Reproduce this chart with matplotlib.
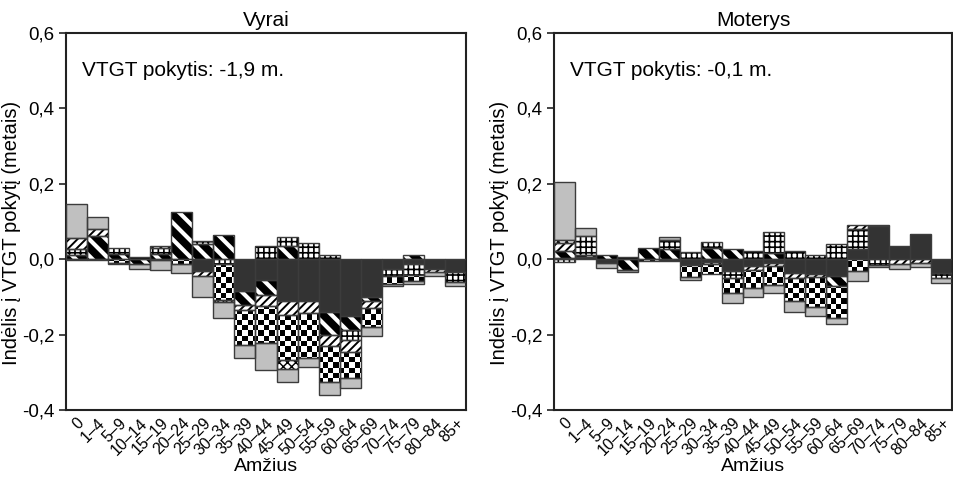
import numpy as np
import matplotlib
matplotlib.use('Agg')
import matplotlib.pyplot as plt
from matplotlib.path import Path

plt.rcParams['font.family'] = ['Liberation Sans', 'DejaVu Sans']
plt.rcParams['hatch.linewidth'] = 1.2

ages = ['0', '1–4', '5–9', '10–14', '15–19', '20–24', '25–29', '30–34', '35–39', '40–44',
        '45–49', '50–54', '55–59', '60–64', '65–69', '70–74', '75–79', '80–84', '85+']

# Vyrai (men): contribution of each cause group, by age
m_dark    = [-0.003, -0.003, 0, 0, -0.002, 0, -0.032, 0, -0.085, -0.055, -0.112, -0.112, -0.14, -0.152, -0.099, -0.027, -0.012, -0.025, -0.033]
m_stripes = [0.012, 0.061, 0.015, -0.014, 0.013, 0.126, 0.04, 0.065, -0.036, -0.04, 0.035, 0, -0.062, -0.036, -0.011, 0, 0.01, 0, 0]
m_grid    = [0.014, 0, 0.015, 0.005, 0.018, 0, 0.008, -0.012, 0, 0.035, 0.024, 0.042, 0.012, -0.027, 0, -0.018, -0.03, 0, -0.028]
m_fine    = [0.031, 0.018, 0, 0, 0.005, 0, -0.013, 0, -0.015, -0.03, -0.036, -0.031, -0.027, -0.03, -0.02, 0, 0, -0.01, 0]
m_checker = [0, 0, -0.01, 0, 0, -0.012, 0, -0.095, -0.092, -0.098, -0.12, -0.12, -0.097, -0.071, -0.049, -0.02, -0.016, 0, 0]
m_dots    = [0, 0, 0, 0, 0, 0, 0, -0.006, 0, 0, -0.022, 0, 0, 0, 0, 0, 0, 0, 0]
m_other   = [0.089, 0.033, -0.004, -0.012, -0.028, -0.025, -0.054, -0.042, -0.035, -0.07, -0.037, -0.024, -0.034, -0.025, -0.026, -0.007, -0.008, -0.01, -0.01]

# Moterys (women)
f_dark    = [0.004, 0.006, -0.01, 0, 0, -0.006, -0.016, -0.008, -0.032, -0.019, -0.01, -0.037, -0.04, -0.045, 0.028, 0.087, 0.035, 0.068, -0.037]
f_stripes = [0.017, 0.006, 0.011, -0.03, 0.03, 0.026, 0, 0.03, 0.026, 0, 0.017, 0, 0, -0.027, 0, 0, 0, 0, 0]
f_grid    = [-0.008, 0.049, 0, 0.006, 0, 0.026, 0.02, 0.016, -0.018, 0.021, 0.056, 0.023, 0.012, 0.041, 0.051, -0.016, 0, 0, -0.014]
f_fine    = [0.023, 0, 0, 0, 0, 0, 0, -0.006, 0, -0.009, -0.008, -0.013, -0.008, 0, 0.013, 0.004, -0.012, -0.01, 0]
f_checker = [0, 0, 0, 0, -0.005, 0, -0.03, -0.025, -0.04, -0.048, -0.05, -0.062, -0.08, -0.085, -0.032, 0, 0, 0, 0]
f_dots    = [0.008, 0, 0, 0, 0, 0, 0, 0, 0, 0, 0, 0, 0, 0, 0, 0, 0, 0, 0]
f_other   = [0.154, 0.023, -0.013, -0.004, 0, 0.008, -0.01, 0, -0.026, -0.025, -0.022, -0.027, -0.022, -0.016, -0.027, -0.005, -0.014, -0.01, -0.012]

titles = ['Vyrai', 'Moterys']
totals = ['-1,9', '-0,1']

styles = {
    'dark':    dict(facecolor='#333333', edgecolor='#333333', hatch=None, hlw=None),
    'stripes': dict(facecolor='black', edgecolor='white', hatch='\\\\', hlw=3.0),
    'grid':    dict(facecolor='white', edgecolor='black', hatch='+++', hlw=1.2),
    'fine':    dict(facecolor='white', edgecolor='black', hatch='////', hlw=1.4),
    'checker': dict(facecolor='white', edgecolor='white', hatch=None, hlw=None),
    'dots':    dict(facecolor='white', edgecolor='black', hatch='xxxx', hlw=1.0),
    'other':   dict(facecolor='#c0c0c0', edgecolor='#c0c0c0', hatch=None, hlw=None),
}


def fmt(v, pos=None):
    return ('%.1f' % v).replace('.', ',')


def draw_panel(ax, series, title, total):
    n = len(ages)
    x = np.arange(n)
    pos_b = np.zeros(n)
    neg_b = np.zeros(n)
    checker_paths = []
    for key, vals in series:
        v = np.array(vals, dtype=float)
        st = styles[key]
        for part, base in ((np.where(v > 0, v, 0), pos_b.copy()), (np.where(v < 0, v, 0), neg_b.copy())):
            m = part != 0
            if not m.any():
                continue
            bars = ax.bar(x[m], part[m], width=1.0, bottom=base[m], facecolor=st['facecolor'],
                          edgecolor=st['edgecolor'], hatch=st['hatch'], linewidth=0, zorder=1)
            if st['hlw'] is not None:
                for p in bars:
                    if hasattr(p, 'set_hatch_linewidth'):
                        p.set_hatch_linewidth(st['hlw'])
            if key == 'checker':
                for p in bars:
                    checker_paths.append(p.get_path().transformed(p.get_patch_transform()))
            ax.bar(x[m], part[m], width=1.0, bottom=base[m], fill=False,
                   edgecolor='#3c3c3c', linewidth=1.0, zorder=3)
        pos_b += np.where(v > 0, v, 0)
        neg_b += np.where(v < 0, v, 0)

    if checker_paths:
        tex = np.add.outer(np.arange(71), np.arange(75)) % 2
        im = ax.imshow(tex, cmap='gray', extent=(0, 1, 0, 1), transform=ax.transAxes,
                       interpolation='nearest', aspect='auto', zorder=2)
        im.set_clip_path(Path.make_compound_path(*checker_paths), ax.transData)

    ax.set_xlim(-0.5, n - 0.5)
    ax.set_ylim(-0.4, 0.6)
    ax.set_yticks([-0.4, -0.2, 0.0, 0.2, 0.4, 0.6])
    ax.yaxis.set_major_formatter(plt.FuncFormatter(fmt))
    ax.set_xticks(x)
    ax.set_xticklabels(ages, rotation=45, ha='right', rotation_mode='anchor', fontsize=11.5)
    ax.tick_params(axis='x', length=0, pad=4)
    ax.tick_params(axis='y', length=5, width=1.2, labelsize=13.5, color='#222222')
    for s in ax.spines.values():
        s.set_linewidth(1.5)
        s.set_color('#222222')
    ax.set_title(title, fontsize=15, pad=5)
    ax.set_xlabel('Amžius', fontsize=14)
    ax.xaxis.set_label_coords(0.5, -0.128)
    ax.set_ylabel('Indėlis į VTGT pokytį (metais)', fontsize=14.5)
    ax.yaxis.set_label_coords(-0.112, 0.47)
    ax.text(0.04, 0.9, 'VTGT pokytis: %s m.' % total, transform=ax.transAxes,
            fontsize=15, va='center', ha='left')


fig = plt.figure(figsize=(9.54, 4.79), dpi=100)
ax1 = fig.add_axes([0.0692, 0.1441, 0.4193, 0.787])
ax2 = fig.add_axes([0.5807, 0.1441, 0.4172, 0.787])

men = [('dark', m_dark), ('stripes', m_stripes), ('grid', m_grid), ('fine', m_fine),
       ('checker', m_checker), ('dots', m_dots), ('other', m_other)]
women = [('dark', f_dark), ('stripes', f_stripes), ('grid', f_grid), ('fine', f_fine),
         ('checker', f_checker), ('dots', f_dots), ('other', f_other)]

draw_panel(ax1, men, titles[0], totals[0])
draw_panel(ax2, women, titles[1], totals[1])

fig.savefig('out.png', dpi=100)
